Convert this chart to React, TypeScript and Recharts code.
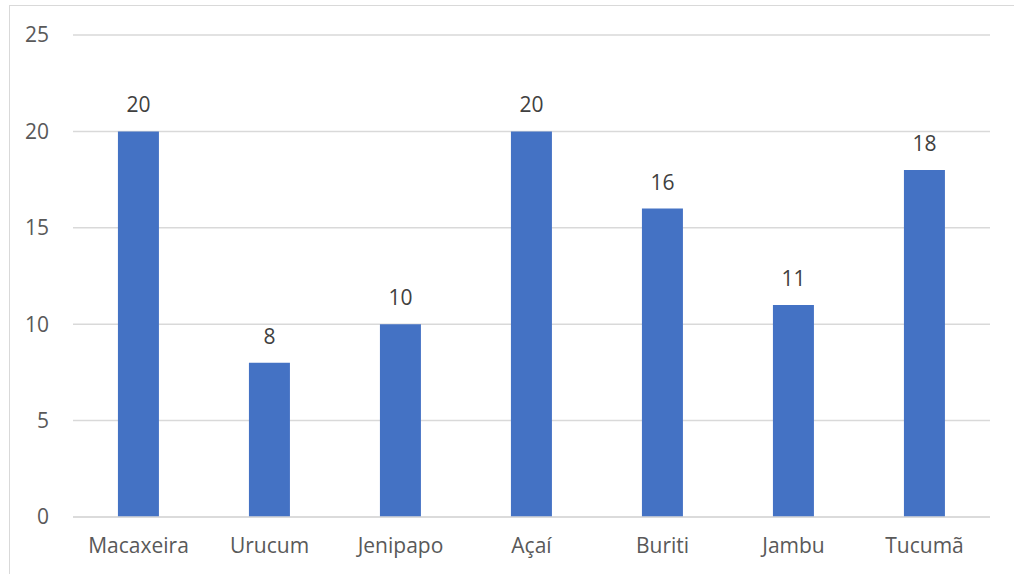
import React from 'react';
import { BarChart, Bar, XAxis, YAxis, CartesianGrid, LabelList } from 'recharts';

const categories = ['Macaxeira', 'Urucum', 'Jenipapo', 'Açaí', 'Buriti', 'Jambu', 'Tucumã'];
const values = [20, 8, 10, 20, 16, 11, 18];
const yTicks = [0, 5, 10, 15, 20, 25];

const data = categories.map((name, i) => ({ name, value: values[i] }));

const textColor = '#595959';
const gridColor = '#d9d9d9';
const font = '"Open Sans", sans-serif';

export default function App() {
  return (
    <div style={{ position: 'fixed', left: 0, top: 0, width: 1014, height: 574, overflow: 'hidden', background: '#fff' }}>
      <div
        style={{
          position: 'absolute',
          left: 9,
          top: 5,
          width: 1020,
          height: 590,
          border: `1px solid ${gridColor}`,
          boxSizing: 'border-box',
        }}
      />
      <div style={{ position: 'absolute', left: 0, top: 0 }}>
        <BarChart
          width={1014}
          height={574}
          data={data}
          margin={{ top: 35, right: 24, bottom: 0, left: 0 }}
          barCategoryGap="34.3%"
        >
          <CartesianGrid vertical={false} stroke={gridColor} strokeWidth={1.5} />
          <XAxis
            dataKey="name"
            axisLine={{ stroke: gridColor, strokeWidth: 1.5 }}
            tickLine={false}
            tickSize={0}
            tickMargin={21}
            height={57}
            tick={{ fill: textColor, fontSize: 21, fontFamily: font }}
          />
          <YAxis
            domain={[0, 25]}
            ticks={yTicks}
            axisLine={false}
            tickLine={false}
            tickSize={0}
            tickMargin={24}
            width={73}
            tick={{ fill: textColor, fontSize: 21, fontFamily: font }}
          />
          <Bar dataKey="value" fill="#4472c4" isAnimationActive={false}>
            <LabelList
              dataKey="value"
              position="top"
              offset={19}
              fill="#404040"
              fontSize={21}
              fontFamily={font}
            />
          </Bar>
        </BarChart>
      </div>
    </div>
  );
}
